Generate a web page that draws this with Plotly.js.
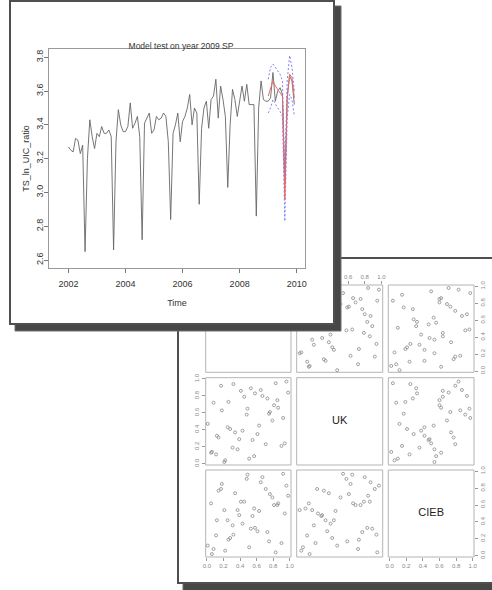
<!DOCTYPE html>
<html><head><meta charset="utf-8">
<script src="https://cdn.plot.ly/plotly-3.0.1.min.js"></script>
<style>html,body{margin:0;padding:0;background:#fff}#chart{width:492px;height:590px}</style>
</head><body><div id="chart"></div>
<script>
// ---------- time series data (monthly, 2002-01 .. 2009-12) ----------
const TS_START = 2002;
const TS_FREQ = 12;
const ACTUAL = [
 3.27,3.25,3.24,3.32,3.31,3.23,3.28,2.65,3.20,3.43,3.33,3.26,
 3.35,3.33,3.39,3.35,3.35,3.37,3.33,2.66,3.30,3.49,3.40,3.36,
 3.36,3.39,3.53,3.38,3.41,3.45,3.33,2.72,3.41,3.44,3.47,3.35,
 3.37,3.45,3.43,3.44,3.47,3.45,3.30,2.84,3.35,3.40,3.47,3.30,
 3.42,3.45,3.50,3.58,3.40,3.50,3.47,2.93,3.38,3.50,3.54,3.38,
 3.55,3.57,3.67,3.44,3.63,3.55,3.45,3.03,3.40,3.61,3.55,3.45,
 3.55,3.63,3.54,3.64,3.52,3.52,3.52,2.86,3.50,3.66,3.55,3.54,
 3.54,3.56,3.71,3.54,3.60,3.62,3.58,3.05,3.57,3.69,3.66,3.52];
const FC_START = 2009;
const FORECAST = [3.57,3.61,3.66,3.63,3.61,3.59,3.57,2.96,3.55,3.70,3.68,3.56];
const UPPER    = [3.67,3.74,3.76,3.74,3.72,3.70,3.66,3.10,3.66,3.81,3.74,3.60];
const LOWER    = [3.47,3.50,3.55,3.52,3.50,3.48,3.45,2.83,3.44,3.58,3.55,3.45];
const TS_XTICKS = [2002,2004,2006,2008,2010];
const TS_YTICKS = [2.6,2.8,3.0,3.2,3.4,3.6,3.8];

// ---------- pairs data ----------
const NAMES = ['SP','UK','CIEB'];
const SP   = [0.01,0.05,0.06,0.08,0.11,0.12,0.14,0.17,0.18,0.21,0.22,0.25,0.26,0.28,0.31,0.32,0.34,0.37,0.39,0.41,0.43,0.45,0.48,0.49,0.51,0.53,0.55,0.57,0.58,0.61,0.63,0.65,0.67,0.71,0.73,0.75,0.76,0.79,0.81,0.83,0.85,0.86,0.90,0.92,0.94,0.96,0.98];
const UK   = [0.47,0.13,0.14,0.72,0.11,0.33,0.31,0.92,0.63,0.02,0.04,0.43,0.73,0.41,0.19,0.94,0.37,0.17,0.29,0.86,0.39,0.79,0.58,0.65,0.06,0.89,0.28,0.09,0.83,0.35,0.45,0.87,0.80,0.23,0.77,0.59,0.61,0.51,0.69,0.95,0.75,0.66,0.21,0.54,0.24,0.97,0.84];
const CIEB = [0.12,0.62,0.02,0.08,0.24,0.42,0.77,0.79,0.85,0.54,0.06,0.42,0.19,0.21,0.36,0.25,0.74,0.54,0.48,0.64,0.38,0.64,0.91,0.96,0.10,0.32,0.47,0.56,0.33,0.29,0.53,0.87,0.93,0.79,0.28,0.17,0.73,0.69,0.60,0.04,0.60,0.62,0.15,0.97,0.50,0.83,0.71];
const PAIR_TICKS = [0,0.2,0.4,0.6,0.8,1.0];
const VARS = [SP, UK, CIEB];

// ---------- layout geometry (pixels) ----------
const W = 492, H = 590;
const px = x => x / W, py = y => 1 - y / H;
const TS_BOX = {l:49, r:305, t:49, b:268};
const TS_XRANGE = [2001.32, 2010.29], TS_YRANGE = [2.553, 3.849];
const COLS = [[205.7,291],[296.7,382.7],[388.3,474]];
const ROWS = [[285,372.3],[377.7,465],[470,557]];
const CUT = {x:341.5, y:331.5};   // edge of the front window's shadow
const PR = [-0.015, 1.015];
const FONT = 'Liberation Sans, Arial, Helvetica, sans-serif';

function rect(x0,y0,x1,y1,fill,line,lw){
  return {type:'rect',xref:'paper',yref:'paper',layer:'below',
    x0:px(x0),x1:px(x1),y0:py(y1),y1:py(y0),
    fillcolor:fill,line:{color:line,width:lw}};
}

const shapes = [];
// back window (pairs)
shapes.push(rect(183,263,520,600,'#474747','#6b6b6b',1));
shapes.push(rect(178,258,515,583,'#ffffff','#4f4f4f',2));
// panel frames
for (let r=0;r<3;r++) for (let c=0;c<3;c++)
  shapes.push(rect(COLS[c][0],ROWS[r][0],COLS[c][1],ROWS[r][1],'rgba(0,0,0,0)','#b4b4b4',1));
// front window (time series)
shapes.push(rect(15,6,341,331,'#474747','#6e6e6e',1));
shapes.push(rect(10,1,334,324,'#ffffff','#4f4f4f',2));

const layout = {
  width:W, height:H, margin:{l:0,r:0,t:0,b:0},
  paper_bgcolor:'#ffffff', plot_bgcolor:'rgba(0,0,0,0)',
  showlegend:false, hovermode:false,
  font:{family:FONT,color:'#333'},
  shapes:shapes,
  title:{text:'Model test on year 2009 SP', x:px(181), y:py(46.5), xref:'paper', yref:'paper',
         xanchor:'center', yanchor:'middle', font:{size:8.5,color:'#333',family:FONT}},
  xaxis:{domain:[px(TS_BOX.l),px(TS_BOX.r)], range:TS_XRANGE, anchor:'y',
    tickvals:TS_XTICKS, ticktext:TS_XTICKS.map(String), ticks:'outside', ticklen:4, tickcolor:'#777',
    ticklabelstandoff:3,
    showline:true, mirror:true, linecolor:'#9a9a9a', linewidth:1, showgrid:false, zeroline:false,
    tickfont:{size:9,color:'#333'}, title:{text:'Time', font:{size:9,color:'#333'}, standoff:11}},
  yaxis:{domain:[py(TS_BOX.b),py(TS_BOX.t)], range:TS_YRANGE, anchor:'x',
    tickvals:TS_YTICKS, ticktext:TS_YTICKS.map(v=>v.toFixed(1)), tickangle:-90,
    ticks:'outside', ticklen:4, tickcolor:'#777', ticklabelstandoff:-3,
    showline:true, mirror:true, linecolor:'#9a9a9a', linewidth:1, showgrid:false, zeroline:false,
    tickfont:{size:9,color:'#333'}, title:{text:'TS_ln_UIC_ratio', font:{size:9,color:'#333'}, standoff:4}}
};

const tsX = ACTUAL.map((_,i)=>TS_START + i/TS_FREQ);
const fcX = FORECAST.map((_,i)=>FC_START + i/TS_FREQ);
const data = [
  {x:tsX, y:ACTUAL, type:'scatter', mode:'lines', line:{color:'#666',width:0.9}, xaxis:'x', yaxis:'y'},
  {x:fcX, y:UPPER, type:'scatter', mode:'lines', line:{color:'#7070ff',width:0.9,dash:'2px,2px'}, xaxis:'x', yaxis:'y'},
  {x:fcX, y:LOWER, type:'scatter', mode:'lines', line:{color:'#7070ff',width:0.9,dash:'2px,2px'}, xaxis:'x', yaxis:'y'},
  {x:fcX, y:FORECAST, type:'scatter', mode:'lines', line:{color:'#e86a6a',width:1}, xaxis:'x', yaxis:'y'}
];

function subRange(p0,p1,a,b,flip){
  const k=(PR[1]-PR[0])/(p1-p0);
  return flip ? [PR[1]-(b-p0)*k, PR[1]-(a-p0)*k] : [PR[0]+(a-p0)*k, PR[0]+(b-p0)*k];
}
function axisDef(isX, dom, range, anchor, side){
  const a={domain:dom, range:range, anchor:anchor, showgrid:false, zeroline:false, showline:false, fixedrange:true};
  if (side){
    Object.assign(a,{side:side, ticks:'outside', ticklen:3, tickwidth:1, tickcolor:'#999',
      tickvals:PAIR_TICKS, ticktext:PAIR_TICKS.map(v=>v.toFixed(1)),
      tickfont:{size:6,color:'#888'}, showticklabels:true});
    if(!isX) a.tickangle=-90;
  } else { a.showticklabels=false; a.ticks=''; }
  return a;
}
let n=2;
function addView(r,c,x0,x1,y0,y1,xside,yside){
  const id=n++;
  const xr=subRange(COLS[c][0],COLS[c][1],x0,x1,false);
  const yr=subRange(ROWS[r][0],ROWS[r][1],y0,y1,true);
  layout['xaxis'+id]=axisDef(true,[px(x0),px(x1)],xr,'y'+id,xside);
  layout['yaxis'+id]=axisDef(false,[py(y1),py(y0)],yr,'x'+id,yside);
  if (r===c){
    data.push({x:[0.5],y:[0.5],type:'scatter',mode:'text',text:[NAMES[r]],textposition:'middle center',
      textfont:{size:11,color:'#222',family:FONT},cliponaxis:true,xaxis:'x'+id,yaxis:'y'+id});
  } else {
    data.push({x:VARS[c],y:VARS[r],type:'scatter',mode:'markers',cliponaxis:true,
      marker:{symbol:'circle-open',size:3,color:'#8a8a8a',line:{width:0.8}},
      xaxis:'x'+id,yaxis:'y'+id});
  }
}
for (let r=0;r<3;r++) for (let c=0;c<3;c++){
  const [x0,x1]=COLS[c], [y0,y1]=ROWS[r];
  const xside = (r===2 && c!==1) ? 'bottom' : null;
  const yside = (c===0 && r===1) ? 'left' : ((c===2 && r!==1) ? 'right' : null);
  if (r===0 && c===0){ addView(r,c,x0,x1,CUT.y,y1,null,null); }
  else if (r===0 && c===1){
    addView(r,c,CUT.x,x1,y0,y1,'top',null);
    addView(r,c,x0,CUT.x,CUT.y,y1,null,null);
  } else addView(r,c,x0,x1,y0,y1,xside,yside);
}

Plotly.newPlot('chart', data, layout, {staticPlot:true, displayModeBar:false});
</script>
</body></html>
